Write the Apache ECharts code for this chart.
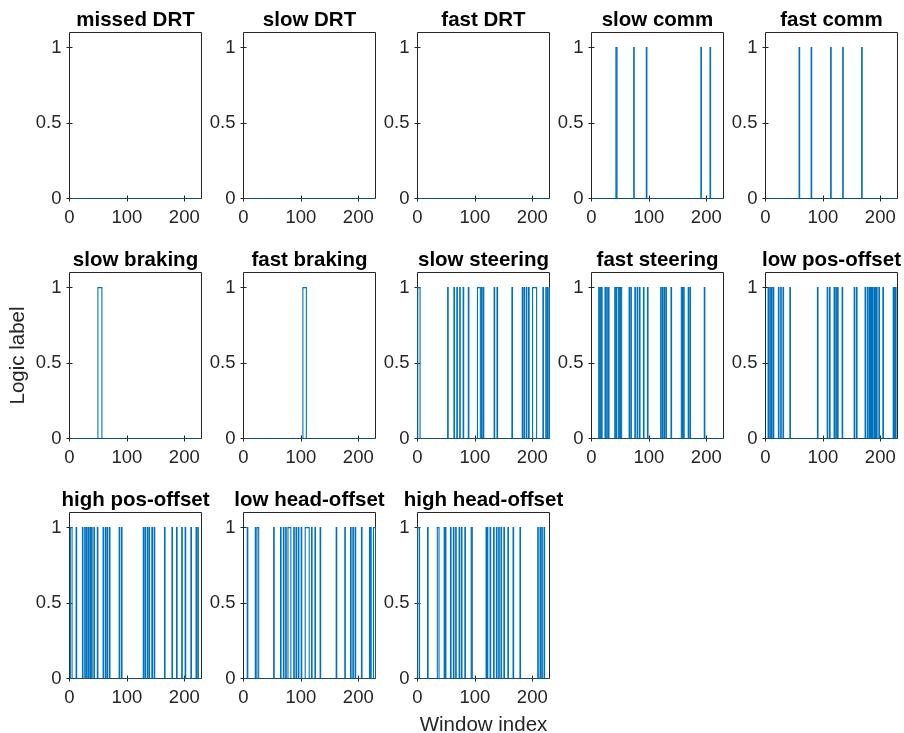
<!DOCTYPE html>
<html>
<head>
<meta charset="utf-8">
<title>Logic labels per window</title>
<script src="https://cdn.jsdelivr.net/npm/echarts@6/dist/echarts.min.js"></script>
<style>
  html, body { margin: 0; padding: 0; background: #ffffff; }
  #chart { width: 904px; height: 733px; }
</style>
</head>
<body>
<div id="chart"></div>
<script>
// Number of analysis windows in the recording
const N_WINDOWS = 230;

// Panel titles, in reading order
const panelTitles = [
  'missed DRT', 'slow DRT', 'fast DRT', 'slow comm', 'fast comm',
  'slow braking', 'fast braking', 'slow steering', 'fast steering', 'low pos-offset',
  'high pos-offset', 'low head-offset', 'high head-offset'
];

// Windows where each label is active: [first, last] window index (inclusive)
const missedDRT = [];
const slowDRT = [];
const fastDRT = [];
const slowComm = [[43, 44], [74, 74], [96, 96], [191, 191], [207, 207]];
const fastComm = [[59, 59], [80, 80], [114, 114], [135, 135], [168, 168]];
const slowBraking = [[50, 56]];
const fastBraking = [[104, 109]];
const slowSteering = [[1, 4], [53, 53], [64, 64], [69, 69], [74, 74], [80, 80], [89, 89],
  [105, 109], [112, 112], [115, 115], [134, 134], [139, 139], [165, 165], [183, 183],
  [186, 186], [190, 190], [194, 194], [201, 207], [219, 219], [224, 224], [227, 227], [230, 230]];
const fastSteering = [[13, 13], [15, 15], [18, 18], [24, 24], [27, 27], [30, 30], [41, 42],
  [44, 46], [48, 49], [51, 52], [66, 66], [69, 69], [76, 76], [80, 80], [84, 84], [91, 91],
  [98, 98], [121, 121], [124, 124], [127, 127], [130, 130], [139, 139], [157, 158],
  [160, 161], [169, 169], [172, 172], [197, 197]];
const lowPosOffset = [[5, 5], [8, 8], [11, 11], [14, 14], [23, 23], [27, 27], [31, 31],
  [43, 43], [91, 91], [108, 108], [112, 112], [120, 120], [123, 123], [126, 126], [134, 134],
  [155, 155], [159, 159], [174, 174], [178, 178], [181, 181], [183, 183], [185, 185],
  [187, 187], [190, 190], [192, 192], [194, 194], [198, 198], [205, 205], [223, 223],
  [225, 225], [227, 227]];
const highPosOffset = [[2, 4], [12, 12], [23, 23], [27, 27], [30, 30], [33, 33], [36, 36],
  [39, 39], [43, 43], [49, 49], [59, 59], [63, 63], [66, 66], [70, 70], [87, 87], [91, 91],
  [129, 129], [132, 132], [136, 136], [139, 139], [144, 144], [148, 148], [166, 166],
  [179, 179], [187, 187], [196, 196], [202, 202], [212, 212], [221, 221], [224, 224]];
const lowHeadOffset = [[7, 7], [21, 21], [24, 26], [53, 53], [65, 65], [70, 70], [74, 74],
  [78, 82], [88, 88], [92, 92], [96, 96], [101, 101], [108, 114], [119, 119], [125, 125],
  [134, 134], [162, 162], [177, 177], [187, 187], [191, 191], [195, 195], [206, 206],
  [220, 220], [222, 222], [227, 230]];
const highHeadOffset = [[1, 3], [18, 18], [35, 37], [47, 47], [49, 49], [58, 58], [63, 63],
  [67, 67], [73, 73], [77, 77], [83, 83], [94, 95], [120, 120], [122, 122], [127, 127],
  [133, 133], [138, 138], [142, 142], [146, 146], [151, 151], [158, 158], [167, 167],
  [179, 179], [210, 210], [214, 214], [217, 217], [221, 221]];

const panelRuns = [
  missedDRT, slowDRT, fastDRT, slowComm, fastComm,
  slowBraking, fastBraking, slowSteering, fastSteering, lowPosOffset,
  highPosOffset, lowHeadOffset, highHeadOffset
];

// Axis ticks
const xTicks = [0, 100, 200];
const yTicks = [0, 0.5, 1];
const X_MAX = 230;
const Y_MAX = 1.1;

// Layout of the 5-column subplot grid
const COLS = 5;
const GRID_LEFT0 = 69.5, GRID_TOP0 = 32.5;
const COL_STEP = 174, ROW_STEP = 240;
const GRID_W = 132, GRID_H = 166;

const FONT = '"Liberation Sans", Arial, Helvetica, sans-serif';
const AXIS_COLOR = '#262626';
const LINE_COLOR = '#0072BD';
const LINE_W = 1.1;

// Label-0 baseline across all windows: item = [first window, last window, level]
function renderBaseline(params, api) {
  const a = api.coord([api.value(0), api.value(2)]);
  const b = api.coord([api.value(1), api.value(2)]);
  return {
    type: 'line',
    shape: { x1: a[0], y1: a[1], x2: b[0], y2: b[1] },
    style: { stroke: LINE_COLOR, lineWidth: LINE_W }
  };
}

// One active run drawn as a step pulse: item = [first window, last window, level]
function renderRun(params, api) {
  const s = api.value(0) - 0.5, e = api.value(1) + 0.5, h = api.value(2);
  return {
    type: 'polyline',
    shape: { points: [api.coord([s, 0]), api.coord([s, h]), api.coord([e, h]), api.coord([e, 0])] },
    style: { stroke: LINE_COLOR, lineWidth: LINE_W, fill: null, lineJoin: 'miter' }
  };
}

const grids = [], xAxes = [], yAxes = [], series = [], titles = [];

panelTitles.forEach((name, i) => {
  const row = Math.floor(i / COLS), col = i % COLS;
  const left = GRID_LEFT0 + col * COL_STEP;
  const top = GRID_TOP0 + row * ROW_STEP;
  grids.push({
    left: left, top: top, width: GRID_W, height: GRID_H,
    show: true, borderColor: AXIS_COLOR, borderWidth: 1, backgroundColor: '#ffffff',
    containLabel: false,
    outerBoundsMode: 'none'
  });
  titles.push({
    text: name,
    left: left + GRID_W / 2,
    top: top - 23,
    textAlign: 'center',
    padding: 0,
    textStyle: { fontFamily: FONT, fontSize: 20.5, fontWeight: 'bold', color: '#000000' }
  });

  const tickBase = { show: true, inside: true, length: 3, lineStyle: { color: AXIS_COLOR, width: 1 } };
  const bottomX = {
    type: 'value', gridIndex: i, position: 'bottom', min: 0, max: X_MAX,
    axisLine: { show: false }, splitLine: { show: false },
    axisTick: Object.assign({ customValues: xTicks }, tickBase),
    axisLabel: {
      customValues: xTicks, margin: 10,
      fontFamily: FONT, fontSize: 18.5, color: AXIS_COLOR
    }
  };
  if (i === 12) {
    bottomX.name = 'Window index';
    bottomX.nameLocation = 'middle';
    bottomX.nameGap = 36;
    bottomX.nameTextStyle = { fontFamily: FONT, fontSize: 20.5, color: AXIS_COLOR };
  }
  xAxes.push(bottomX);
  xAxes.push({
    type: 'value', gridIndex: i, position: 'top', min: 0, max: X_MAX,
    axisLine: { show: false }, splitLine: { show: false },
    axisTick: Object.assign({ customValues: xTicks }, tickBase),
    axisLabel: { show: false }
  });

  const leftY = {
    type: 'value', gridIndex: i, position: 'left', min: 0, max: Y_MAX,
    axisLine: { show: false }, splitLine: { show: false },
    axisTick: Object.assign({ customValues: yTicks }, tickBase),
    axisLabel: {
      customValues: yTicks, margin: 8,
      fontFamily: FONT, fontSize: 18.5, color: AXIS_COLOR
    }
  };
  if (i === 5) {
    leftY.name = 'Logic label';
    leftY.nameLocation = 'middle';
    leftY.nameGap = 41;
    leftY.nameTextStyle = { fontFamily: FONT, fontSize: 20.5, color: AXIS_COLOR };
  }
  yAxes.push(leftY);
  yAxes.push({
    type: 'value', gridIndex: i, position: 'right', min: 0, max: Y_MAX,
    axisLine: { show: false }, splitLine: { show: false },
    axisTick: Object.assign({ customValues: yTicks }, tickBase),
    axisLabel: { show: false }
  });

  series.push({
    type: 'custom',
    name: name + ' baseline',
    xAxisIndex: 2 * i,
    yAxisIndex: 2 * i,
    data: [[1, N_WINDOWS, 0]],
    encode: { x: [0, 1], y: 2 },
    renderItem: renderBaseline,
    clip: true,
    silent: true,
    animation: false,
    z: 3
  });
  series.push({
    type: 'custom',
    name: name,
    xAxisIndex: 2 * i,
    yAxisIndex: 2 * i,
    data: panelRuns[i].map(r => [r[0], r[1], 1]),
    encode: { x: [0, 1], y: 2 },
    renderItem: renderRun,
    clip: true,
    animation: false,
    z: 4
  });
});

const chart = echarts.init(document.getElementById('chart'), null, { renderer: 'canvas' });
chart.setOption({
  animation: false,
  backgroundColor: '#ffffff',
  title: titles,
  grid: grids,
  xAxis: xAxes,
  yAxis: yAxes,
  series: series
});
</script>
</body>
</html>
